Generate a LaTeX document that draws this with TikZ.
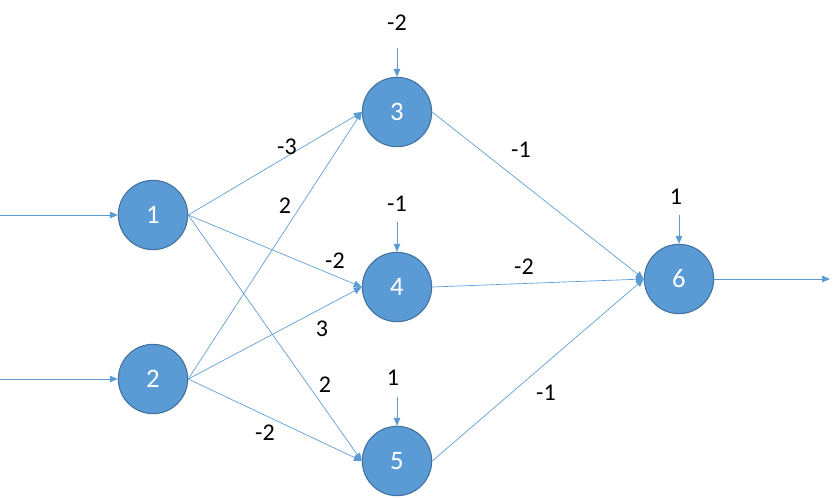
\documentclass[tikz,border=0pt]{standalone}
\usepackage{fontspec}
\setmainfont{Carlito}
\usetikzlibrary{arrows.meta}

\definecolor{nodeblue}{HTML}{5B9BD5}
\definecolor{nodeedge}{HTML}{41719C}
\tikzset{
  neuron/.style={circle,fill=nodeblue,draw=nodeedge,line width=0.8pt,minimum size=52pt,inner sep=0pt,text=white,font=\fontsize{20}{24}\selectfont},
  wlabel/.style={font=\fontsize{18}{21}\selectfont,text=black},
  link/.style={draw=nodeblue,line width=0.5pt,-{Triangle[length=6pt,width=5pt]}}
}

\begin{document}
\begin{tikzpicture}[x=0.75pt,y=-0.75pt]
\useasboundingbox (0,0) rectangle (840,497);

% Neurons
\node[neuron] (n1) at (153,215) {1};
\node[neuron] (n2) at (153,379) {2};
\node[neuron] (n3) at (397,112) {3};
\node[neuron] (n4) at (397,287) {4};
\node[neuron] (n5) at (397,461) {5};
\node[neuron] (n6) at (679,279) {6};

% Inputs and output
\coordinate (in1) at (0,215);
\coordinate (in2) at (0,379);
\coordinate (out) at (830,279);
\draw[link] (in1) -- (n1.west);
\draw[link] (in2) -- (n2.west);
\draw[link] (n6.east) -- (out);

% Biases
\node[wlabel] (b3) at (397,23) {-2};
\node[wlabel] (b4) at (397,204) {-1};
\node[wlabel] (b5) at (393,378) {1};
\node[wlabel] (b6) at (676,197) {1};
\coordinate (t3) at (397,48);
\coordinate (t4) at (397,222);
\coordinate (t5) at (397,397);
\coordinate (t6) at (679,215);
\draw[link] (t3) -- (n3.north);
\draw[link] (t4) -- (n4.north);
\draw[link] (t5) -- (n5.north);
\draw[link] (t6) -- (n6.north);

% Input layer to hidden layer
\draw[link] (n1.east) -- (n3.west);
\draw[link] (n1.east) -- (n4.west);
\draw[link] (n1.east) -- (n5.west);
\draw[link] (n2.east) -- (n3.west);
\draw[link] (n2.east) -- (n4.west);
\draw[link] (n2.east) -- (n5.west);

% Hidden layer to output
\draw[link] (n3.east) -- (n6.west);
\draw[link] (n4.east) -- (n6.west);
\draw[link] (n5.east) -- (n6.west);

% Weights
\node[wlabel] (w13) at (287,147) {-3};
\node[wlabel] (w23) at (285,206) {2};
\node[wlabel] (w14) at (335,261) {-2};
\node[wlabel] (w24) at (322,329) {3};
\node[wlabel] (w15) at (325,385) {2};
\node[wlabel] (w25) at (265,433) {-2};
\node[wlabel] (w36) at (521,150) {-1};
\node[wlabel] (w46) at (524,267) {-2};
\node[wlabel] (w56) at (546,393) {-1};
\end{tikzpicture}
\end{document}
